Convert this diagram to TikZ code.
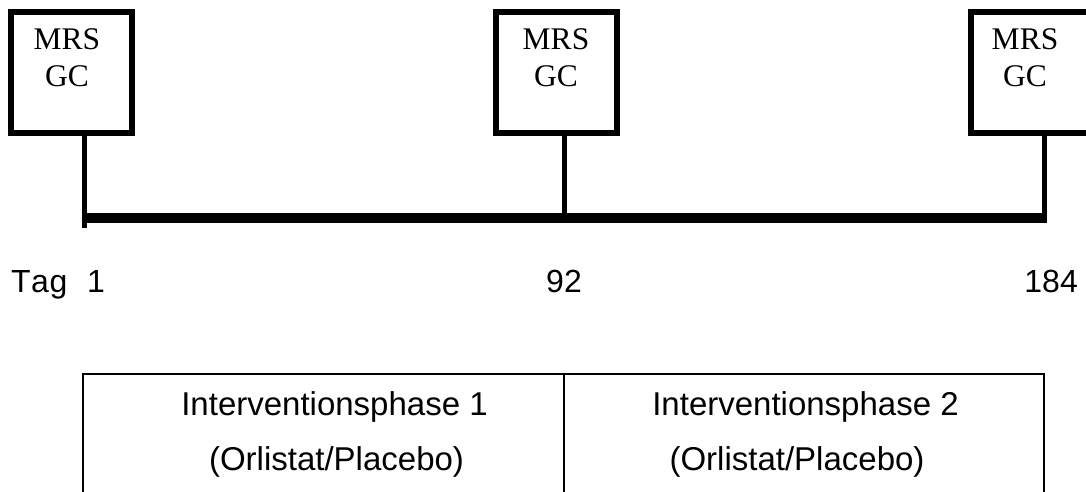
\documentclass[tikz,border=0pt]{standalone}
\usepackage{fontspec}
\setmainfont{Liberation Serif}
\newfontfamily\arialfont{Liberation Sans}
\begin{document}
\begin{tikzpicture}[x=1pt,y=-1pt,
  mrsbox/.style={draw=black,line width=6pt,minimum width=121pt,minimum height=121pt,inner sep=0pt},
  mrstext/.style={anchor=north,inner sep=0pt,align=center,font=\fontsize{31.5}{37}\selectfont},
  stem/.style={line width=5pt,line cap=butt},
  bar/.style={line width=10pt,line cap=butt},
  daylab/.style={inner sep=0pt,font=\arialfont\fontsize{32}{38}\selectfont},
  cell/.style={draw=black,line width=1.5pt,minimum width=480pt,minimum height=150pt,inner sep=0pt},
  celltext/.style={anchor=base,inner sep=0pt,font=\arialfont\fontsize{33}{39}\selectfont}]
\useasboundingbox (0,0) rectangle (1086,492);
% boxes
\node[mrsbox] (b1) at (71.5,72.5) {};
\node[mrsbox] (b2) at (556.5,72.5) {};
\node[mrsbox] (b3) at (1031.5,72.5) {};
\node[mrstext] (t1) at (67,28) {MRS\\GC};
\node[mrstext] (t2) at (556,28) {MRS\\GC};
\node[mrstext] (t3) at (1025,28) {MRS\\GC};
% timeline
\coordinate (s1) at (84.5,228);
\coordinate (s2) at (564,223);
\coordinate (s3) at (1044.5,222);
\coordinate (barL) at (84.5,218);
\coordinate (barR) at (1047,218);
\draw[bar] (barL) -- (barR);
\draw[stem] (b1.south -| s1) -- (s1);
\draw[stem] (b2.south -| s2) -- (s2);
\draw[stem] (b3.south -| s3) -- (s3);
% day labels
\node[daylab,anchor=base west] (tag) at (11,292) {T\kern0.5pt a\kern0.5pt g};
\node[daylab,anchor=base west] (d1) at (87,292) {1};
\node[daylab,anchor=base] (d92) at (564,292) {92};
\node[daylab,anchor=base east] (d184) at (1078,292) {184};
% table
\node[cell,minimum width=481pt] (c1) at (323.5,449) {};
\node[cell] (c2) at (804,449) {};
\node[celltext] (p1) at (334.5,415) {Interventionsphase 1};
\node[celltext] (o1) at (336.5,470) {(Orlistat/Placebo)};
\node[celltext] (p2) at (805.5,415) {Interventionsphase 2};
\node[celltext] (o2) at (797,470) {(Orlistat/Placebo)};
\end{tikzpicture}
\end{document}
